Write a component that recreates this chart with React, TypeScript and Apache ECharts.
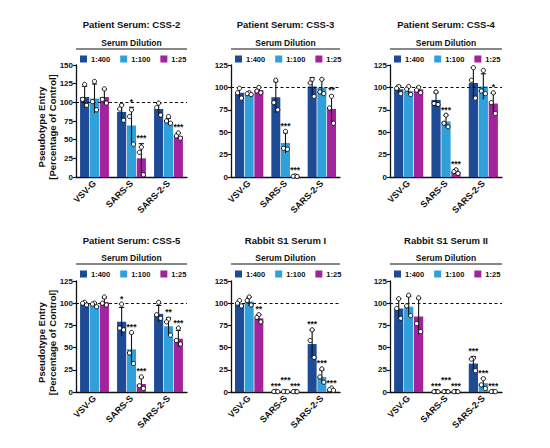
import React, { useEffect, useRef } from 'react';
import * as echarts from 'echarts';

const categories = ['VSV-G', 'SARS-S', 'SARS-2-S'];
const dilutions = ['1:400', '1:100', '1:25'];
const colors = ['#1d4b96', '#2fa0d9', '#a3239c'];
const panelTitles = [
  'Patient Serum: CSS-2',
  'Patient Serum: CSS-3',
  'Patient Serum: CSS-4',
  'Patient Serum: CSS-5',
  'Rabbit S1 Serum I',
  'Rabbit S1 Serum II',
];
const yMaxes = [150, 125, 125, 125, 125, 125];
const yInterval = 25;
const refLine = 100;

// rows = dilution (1:400, 1:100, 1:25), cols = category
const css2Bars = [[107, 87, 91], [105, 69, 74], [107, 25, 55]];
const css2Points = [
  [[124, 104, 96], [96, 91, 76], [99, 93, 83]],
  [[128, 101, 90], [90, 81, 44], [81, 75, 72]],
  [[118, 104, 99], [40, 33, 3], [59, 55, 52]],
];
const css2Stars = [['', '', ''], ['', '*', ''], ['', '***', '***']];

const css3Bars = [[94, 89, 101], [93, 38, 100], [97, 1, 76]];
const css3Points = [
  [[99, 94, 88], [108, 83, 75], [109, 105, 90]],
  [[94, 93, 92], [51, 32, 31], [109, 95, 93]],
  [[100, 96, 94], [1.2, 0.8, 0.5], [90, 77, 60]],
];
const css3Stars = [['', '', ''], ['', '***', ''], ['', '***', '**']];

const css4Bars = [[98, 86, 105], [96, 62, 101], [98, 6, 82]];
const css4Points = [
  [[101, 99, 93], [95, 82, 81], [122, 108, 88]],
  [[101, 98, 92], [69, 60, 56], [119, 96, 93]],
  [[100, 97, 94], [8, 6, 4], [94, 83, 71]],
];
const css4Stars = [['', '', ''], ['', '***', ''], ['', '***', '*']];

const css5Bars = [[99, 79, 88], [98, 48, 74], [101, 9, 60]];
const css5Points = [
  [[101, 100, 98], [99, 72, 70], [101, 87, 83]],
  [[100, 99, 96], [67, 44, 32], [82, 79, 64]],
  [[107, 100, 98], [17, 7, 4], [72, 58, 54]],
];
const css5Stars = [['', '*', ''], ['', '***', '**'], ['', '***', '***']];

const rab1Bars = [[99, 0.6, 54], [102, 0.5, 17], [83, 0.5, 3]];
const rab1Points = [
  [[103, 100, 97], [0.8, 0.5, 0.4], [70, 58, 39]],
  [[107, 103, 98], [0.6, 0.5, 0.3], [26, 17, 11]],
  [[87, 84, 79], [0.6, 0.4, 0.3], [4.5, 2.6, 1.9]],
];
const rab1Stars = [['', '***', '***'], ['', '***', '***'], ['**', '***', '***']];

const rab2Bars = [[94, 0.5, 32], [96, 0.5, 10], [85, 0.5, 0.5]];
const rab2Points = [
  [[105, 94, 83], [0.6, 0.4, 0.3], [38, 37, 24]],
  [[109, 97, 86], [0.5, 0.4, 0.3], [15, 8, 4]],
  [[106, 77, 68], [0.5, 0.4, 0.3], [0.6, 0.5, 0.4]],
];
const rab2Stars = [['', '***', '***'], ['', '***', '***'], ['', '***', '***']];

const panelBars = [css2Bars, css3Bars, css4Bars, css5Bars, rab1Bars, rab2Bars];
const panelPoints = [css2Points, css3Points, css4Points, css5Points, rab1Points, rab2Points];
const panelStars = [css2Stars, css3Stars, css4Stars, css5Stars, rab1Stars, rab2Stars];

// layout (pixels)
const plotBoxes = [
  { left: 76, top: 65, width: 111, height: 112 },
  { left: 231, top: 65, width: 109, height: 112 },
  { left: 390, top: 65, width: 112, height: 112 },
  { left: 76, top: 281, width: 111, height: 111 },
  { left: 231, top: 281, width: 109, height: 111 },
  { left: 390, top: 281, width: 112, height: 111 },
];
const rowTitleY = [24, 240];
const rowDilY = [43, 258];
const rowLineY = [49, 264];
const rowLegendY = [58.5, 273.5];

const FONT = 'Arial, "Liberation Sans", Helvetica, sans-serif';
const INK = '#111';
const CAT_GAP = 0.22;
const BAR_GAP = 0.08;

function meanSd(arr: number[]) {
  const m = arr.reduce((a, b) => a + b, 0) / arr.length;
  const v = arr.reduce((a, b) => a + (b - m) * (b - m), 0) / (arr.length - 1);
  return [m, Math.sqrt(v)];
}

export default function App() {
  const ref = useRef<HTMLDivElement>(null);
  useEffect(() => {
    if (!ref.current) return;
    const chart = echarts.init(ref.current, null, { renderer: 'svg' });

    const grids: any[] = [];
    const xAxes: any[] = [];
    const yAxes: any[] = [];
    const legends: any[] = [];
    const series: any[] = [];
    const graphics: any[] = [];

    plotBoxes.forEach((box, i) => {
      const row = i < 3 ? 0 : 1;
      grids.push({ ...box, containLabel: false });
      xAxes.push({
        type: 'category',
        gridIndex: i,
        data: categories,
        axisLine: { lineStyle: { color: INK, width: 1.3 } },
        axisTick: { show: false },
        axisLabel: {
          rotate: 45,
          interval: 0,
          fontSize: 9,
          fontWeight: 'bold',
          color: INK,
          margin: 5,
          fontFamily: FONT,
        },
      });
      yAxes.push({
        type: 'value',
        gridIndex: i,
        min: 0,
        max: yMaxes[i],
        interval: yInterval,
        axisLine: { show: true, lineStyle: { color: INK, width: 1.3 } },
        axisTick: { show: true, length: 3, lineStyle: { color: INK, width: 1.2 } },
        splitLine: { show: false },
        axisLabel: { fontSize: 8, fontWeight: 'bold', color: INK, margin: 3, fontFamily: FONT },
      });
      legends.push({
        data: dilutions,
        left: box.left + 4,
        top: rowLegendY[row] - 3.5,
        icon: 'rect',
        itemWidth: 7,
        itemHeight: 7,
        itemGap: 10,
        selectedMode: false,
        padding: 0,
        textStyle: { fontSize: 7.5, fontWeight: 'bold', color: INK, fontFamily: FONT, padding: [0, 0, 0, -1] },
      });

      const bars = panelBars[i];
      const points = panelPoints[i];
      const stars = panelStars[i];

      dilutions.forEach((d, di) => {
        const s: any = {
          type: 'bar',
          name: d,
          xAxisIndex: i,
          yAxisIndex: i,
          data: bars[di],
          itemStyle: { color: colors[di] },
          barGap: BAR_GAP * 100 + '%',
          barCategoryGap: CAT_GAP * 100 + '%',
          z: 2,
        };
        if (di === 2) {
          s.markLine = {
            silent: true,
            symbol: 'none',
            label: { show: false },
            lineStyle: { type: [3, 2.5], color: INK, width: 1.1 },
            data: [{ yAxis: refLine }],
            z: 4,
          };
        }
        series.push(s);
      });

      const items: any[] = [];
      dilutions.forEach((_, di) => {
        categories.forEach((_, ci) => {
          const [, sd] = meanSd(points[di][ci]);
          const top = Math.max(bars[di][ci] + sd, ...points[di][ci]);
          items.push([ci, Math.max(0, bars[di][ci] - sd), bars[di][ci] + sd, di, top]);
        });
      });

      series.push({
        type: 'custom',
        xAxisIndex: i,
        yAxisIndex: i,
        silent: true,
        z: 5,
        clip: false,
        encode: { x: 0, y: [1, 2] },
        data: items,
        renderItem: (params: any, api: any) => {
          const ci = api.value(0);
          const lo = api.value(1);
          const hi = api.value(2);
          const di = api.value(3);
          const band = api.size([1, 0])[0];
          const groupW = band * (1 - CAT_GAP);
          const w = groupW / (3 + 2 * BAR_GAP);
          const cx = api.coord([ci, 0])[0] + (di - 1) * w * (1 + BAR_GAP);
          const yHi = api.coord([ci, hi])[1];
          const yLo = api.coord([ci, lo])[1];
          const children: any[] = [
            { type: 'line', shape: { x1: cx, y1: yLo, x2: cx, y2: yHi }, style: { stroke: INK, lineWidth: 1.1 } },
            { type: 'line', shape: { x1: cx - w * 0.28, y1: yHi, x2: cx + w * 0.28, y2: yHi }, style: { stroke: INK, lineWidth: 1.1 } },
          ];
          const jit = [0, -0.22, 0.22];
          points[di][ci].forEach((p, k) => {
            const py = api.coord([ci, p])[1];
            children.push({
              type: 'circle',
              shape: { cx: cx + jit[k] * w, cy: py, r: 2.1 },
              style: { fill: '#fff', stroke: INK, lineWidth: 1 },
            });
          });
          const star = stars[di][ci];
          if (star) {
            const topOf = (dd: number) => api.coord([ci, items[dd * 3 + ci][4]])[1];
            let y = topOf(di);
            if (di === 1) {
              let clash = false;
              let minY = y;
              [0, 2].forEach((dd) => {
                if (stars[dd][ci]) {
                  const yy = topOf(dd);
                  if (Math.abs(yy - y) < 9) {
                    clash = true;
                    minY = Math.min(minY, yy);
                  }
                }
              });
              if (clash) y = minY - 6;
            }
            children.push({
              type: 'text',
              x: cx,
              y: y - 1,
              z2: 10,
              style: {
                text: star,
                align: 'center',
                verticalAlign: 'bottom',
                font: 'bold 8.5px ' + FONT,
                fill: INK,
              },
            });
          }
          return { type: 'group', children };
        },
      });

      const cxPanel = box.left + box.width / 2;
      graphics.push(
        {
          type: 'text',
          x: cxPanel,
          y: rowTitleY[row],
          style: {
            text: panelTitles[i],
            align: 'center',
            verticalAlign: 'middle',
            font: 'bold 9.5px ' + FONT,
            fill: INK,
          },
        },
        {
          type: 'text',
          x: cxPanel,
          y: rowDilY[row],
          style: {
            text: 'Serum Dilution',
            align: 'center',
            verticalAlign: 'middle',
            font: 'bold 8.5px ' + FONT,
            fill: INK,
          },
        },
        {
          type: 'line',
          shape: { x1: box.left, y1: rowLineY[row], x2: box.left + box.width, y2: rowLineY[row] },
          style: { stroke: INK, lineWidth: 1.2 },
        }
      );
      if (i === 0 || i === 3) {
        graphics.push({
          type: 'text',
          x: 47,
          y: box.top + box.height / 2 + 6,
          rotation: Math.PI / 2,
          style: {
            text: 'Pseudotype Entry\n[Percentage of Control]',
            align: 'center',
            verticalAlign: 'middle',
            font: 'bold 9.5px ' + FONT,
            lineHeight: 11,
            fill: INK,
          },
        });
      }
    });

    chart.setOption({
      animation: false,
      backgroundColor: '#fff',
      textStyle: { fontFamily: FONT },
      grid: grids,
      xAxis: xAxes,
      yAxis: yAxes,
      legend: legends,
      series,
      graphic: graphics,
    });
    return () => chart.dispose();
  }, []);
  return (
    <div
      ref={ref}
      style={{ position: 'absolute', left: 0, top: 0, width: 550, height: 448, background: '#fff' }}
    />
  );
}
